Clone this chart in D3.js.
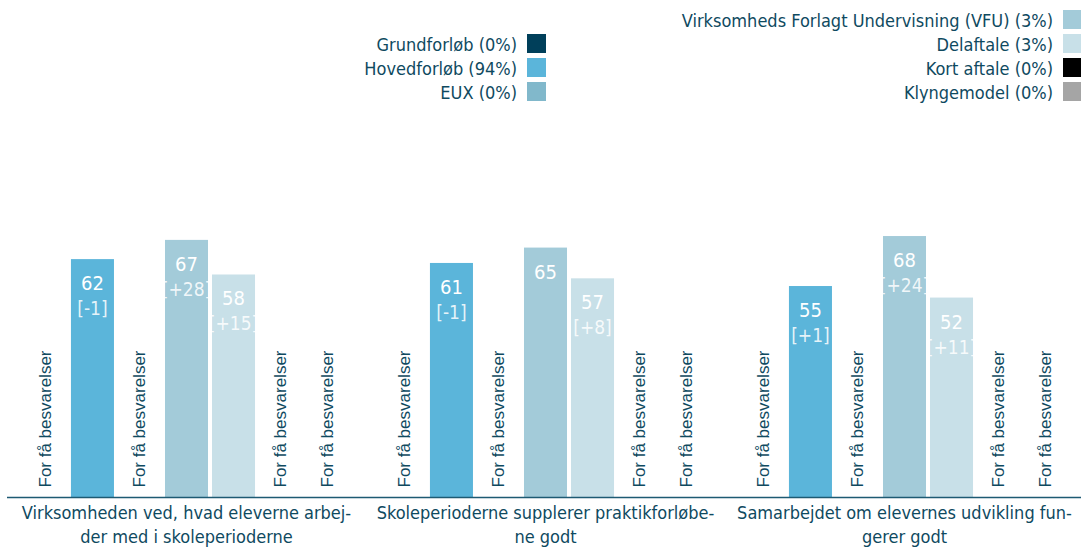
<!DOCTYPE html>
<html>
<head>
<meta charset="utf-8">
<script src="https://cdn.jsdelivr.net/npm/d3@7"></script>
<style>
    body { margin: 0; background: #fff; }
    svg { display: block; }
    .lbl { font-family: "DejaVu Sans Condensed", "DejaVu Sans", sans-serif; fill: #0f4a5f; }
    .few { font-family: "Liberation Sans", Arial, sans-serif; fill: #0f4a5f; }
</style>
</head>
<body>
<div id="chart"></div>
<script>
WIDTH = 1081;
HEIGHT = 548;
TEXT_COLOR = "#0f4a5f";

// categories (already hyphenated like the original)
const categories = [
    ["Virksomheden ved, hvad eleverne arbej-", "der med i skoleperioderne"],
    ["Skoleperioderne supplerer praktikforløbe-", "ne godt"],
    ["Samarbejdet om elevernes udvikling fun-", "gerer godt"]
];

const seriesNames = ["Grundforløb", "Hovedforløb", "EUX", "Virksomheds Forlagt Undervisning (VFU)", "Delaftale", "Kort aftale", "Klyngemodel"];
const seriesShares = [0, 94, 0, 3, 3, 0, 0];
const seriesColors = ["#003f5a", "#5bb5da", "#81b8cb", "#a3cbd9", "#c8e0e8", "#000000", "#a5a5a5"];

// null = "For få besvarelser"
const grundforlobValues = [null, null, null];
const hovedforlobValues = [62, 61, 55];
const euxValues = [null, null, null];
const vfuValues = [67, 65, 68];
const delaftaleValues = [58, 57, 52];
const kortAftaleValues = [null, null, null];
const klyngemodelValues = [null, null, null];

// change vs. last time, shown in brackets
const hovedforlobChanges = ["-1", "-1", "+1"];
const vfuChanges = ["+28", null, "+24"];
const delaftaleChanges = ["+15", "+8", "+11"];

const allValues = [grundforlobValues, hovedforlobValues, euxValues, vfuValues, delaftaleValues, kortAftaleValues, klyngemodelValues];
const allChanges = [[null, null, null], hovedforlobChanges, [null, null, null], vfuChanges, delaftaleChanges, [null, null, null], [null, null, null]];

const svg = d3.select("#chart").append("svg")
    .attr("width", WIDTH)
    .attr("height", HEIGHT);

const x0 = d3.scaleBand()
    .domain(d3.range(categories.length))
    .range([7, 1084]);

const x1 = d3.scaleBand()
    .domain(d3.range(seriesNames.length))
    .range([0, x0.bandwidth()])
    .paddingInner(4 / 47)
    .paddingOuter(0.36);

const y = d3.scaleLinear()
    .domain([0, 100])
    .range([497.5, 113]);

// flatten into cells
const cells = [];
categories.forEach((c, ci) => {
    seriesNames.forEach((s, si) => {
        cells.push({ cat: ci, ser: si, value: allValues[si][ci], change: allChanges[si][ci] });
    });
});

const groups = svg.append("g");

const bars = cells.filter(d => d.value !== null);
const missing = cells.filter(d => d.value === null);

groups.selectAll("rect.bar")
    .data(bars)
    .enter()
    .append("rect")
    .attr("class", "bar")
    .attr("x", d => x0(d.cat) + x1(d.ser))
    .attr("y", d => y(d.value))
    .attr("width", x1.bandwidth())
    .attr("height", d => y(0) - y(d.value))
    .attr("fill", d => seriesColors[d.ser]);

groups.selectAll("text.val")
    .data(bars)
    .enter()
    .append("text")
    .attr("class", "lbl val")
    .attr("x", d => x0(d.cat) + x1(d.ser) + x1.bandwidth() / 2)
    .attr("y", d => y(d.value) + 31)
    .attr("text-anchor", "middle")
    .style("font-size", "20px")
    .style("fill", "#ffffff")
    .text(d => d.value);

groups.selectAll("text.chg")
    .data(bars.filter(d => d.change !== null))
    .enter()
    .append("text")
    .attr("class", "lbl chg")
    .attr("x", d => x0(d.cat) + x1(d.ser) + x1.bandwidth() / 2)
    .attr("y", d => y(d.value) + 56)
    .attr("text-anchor", "middle")
    .style("font-size", "19px")
    .style("fill", "#ffffff")
    .style("fill-opacity", 0.85)
    .text(d => `[${d.change}]`);

// "For få besvarelser" labels
groups.selectAll("text.few")
    .data(missing)
    .enter()
    .append("text")
    .attr("class", "few")
    .attr("transform", d => `translate(${x0(d.cat) + x1(d.ser) + x1.bandwidth() / 2}, ${y(0) - 10}) rotate(-90)`)
    .attr("dominant-baseline", "central")
    .style("font-size", "17px")
    .text("For få besvarelser");

// axis line
svg.append("line")
    .attr("x1", 7)
    .attr("x2", WIDTH)
    .attr("y1", y(0))
    .attr("y2", y(0))
    .attr("stroke", "#1d5a73")
    .attr("stroke-width", 1.5);

// category labels
const catLabels = svg.selectAll("text.cat")
    .data(categories)
    .enter()
    .append("text")
    .attr("class", "lbl cat")
    .attr("text-anchor", "middle")
    .style("font-size", "18px");

catLabels.selectAll("tspan")
    .data((d, i) => d.map(line => ({ line: line, cat: i })))
    .enter()
    .append("tspan")
    .attr("x", d => x0(d.cat) + x0.bandwidth() / 2)
    .attr("y", (d, i) => 519 + i * 24)
    .text(d => d.line);

// Legend: first 3 series left, the rest right
const legendItems = seriesNames.map((s, i) => ({ name: s, share: seriesShares[i], color: seriesColors[i], idx: i }));
const legendBlocks = [
    { items: legendItems.slice(0, 3), x: 527, y: 34 },
    { items: legendItems.slice(3), x: 1063, y: 10 }
];

legendBlocks.forEach(block => {
    const lg = svg.append("g").attr("transform", `translate(${block.x}, ${block.y})`);
    lg.selectAll("rect")
        .data(block.items)
        .enter()
        .append("rect")
        .attr("y", (d, i) => i * 24)
        .attr("width", 19)
        .attr("height", 19)
        .attr("fill", d => d.color);
    lg.selectAll("text")
        .data(block.items)
        .enter()
        .append("text")
        .attr("class", "lbl")
        .attr("x", -10)
        .attr("y", (d, i) => i * 24 + 16.5)
        .attr("text-anchor", "end")
        .style("font-size", "18px")
        .text(d => `${d.name} (${d.share}%)`);
});
</script>
</body>
</html>
